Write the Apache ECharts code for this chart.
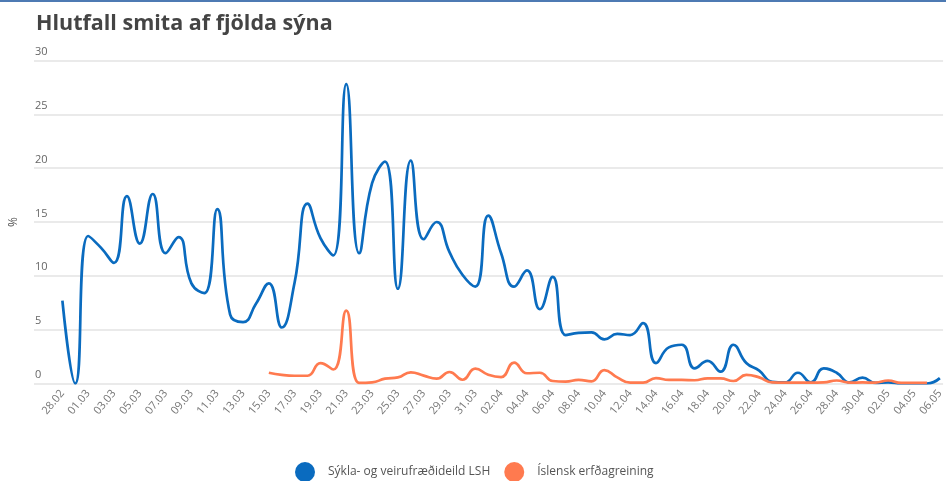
<!DOCTYPE html>
<html>
<head>
<meta charset="UTF-8">
<title>Hlutfall smita af fjölda sýna</title>
<script src="https://cdn.jsdelivr.net/npm/echarts@6/dist/echarts.min.js"></script>
<style>
  html, body { margin: 0; padding: 0; background: #fff; }
  #main { width: 946px; height: 481px; }
</style>
</head>
<body>
<div id="main"></div>
<script>
// dagsetningar 28.02 - 06.05
var dates = ['28.02','29.02',
  '01.03','02.03','03.03','04.03','05.03','06.03','07.03','08.03','09.03','10.03',
  '11.03','12.03','13.03','14.03','15.03','16.03','17.03','18.03','19.03','20.03',
  '21.03','22.03','23.03','24.03','25.03','26.03','27.03','28.03','29.03','30.03','31.03',
  '01.04','02.04','03.04','04.04','05.04','06.04','07.04','08.04','09.04','10.04',
  '11.04','12.04','13.04','14.04','15.04','16.04','17.04','18.04','19.04','20.04',
  '21.04','22.04','23.04','24.04','25.04','26.04','27.04','28.04','29.04','30.04',
  '01.05','02.05','03.05','04.05','05.05','06.05'];

var lshValues = [7.7, 0, 13.7, 12.6, 11.2, 17.4, 13.0, 17.6, 12.1, 13.6,
  9.3, 8.4, 16.2, 6.4, 5.7, 7.4, 9.3, 5.2, 9.4, 16.7,
  13.5, 11.9, 27.8, 12.1, 18.6, 20.6, 8.8, 20.7, 13.4, 15.0,
  12.2, 10.1, 9.0, 15.6, 12.1, 9.0, 10.5, 6.9, 9.9, 4.5,
  4.7, 4.75, 4.1, 4.6, 4.5, 5.6, 1.9, 3.35, 3.6, 1.4,
  2.1, 1.1, 3.6, 1.9, 1.2, 0.15, 0.1, 1.0, 0.1, 1.4,
  1.0, 0.1, 0.55, 0.05, 0.1, 0, 0, 0, 0.5];

var iceValues = [null, null, null, null, null, null, null, null, null, null,
  null, null, null, null, null, null, 1.0, 0.8, 0.72, 0.72,
  1.9, 1.3, 6.76, 0.05, 0.1, 0.45, 0.57, 1.04, 0.73, 0.45,
  1.07, 0.35, 1.38, 0.82, 0.6, 1.93, 0.95, 1.0, 0.23, 0.18,
  0.33, 0.2, 1.25, 0.57, 0.08, 0.08, 0.5, 0.33, 0.33, 0.3,
  0.48, 0.48, 0.23, 0.8, 0.57, 0.1, 0.08, 0.08, 0.08, 0.1,
  0.28, 0.08, 0.1, 0.08, 0.28, 0.05, 0.05, 0.05, null];

var seriesNames = ['Sýkla- og veirufræðideild LSH', 'Íslensk erfðagreining'];

// merkja annan hvern dag
var labelIdx = [];
for (var i = 0; i < dates.length; i += 2) labelIdx.push(i);

function pairs(arr) {
    return arr.map(function (v, i) { return [i, v]; });
}

var myChart = echarts.init(document.getElementById('main'));

var option = {
    backgroundColor: '#fff',
    animation: false,
    title: {
        text: 'Hlutfall smita af fjölda sýna',
        left: 31,
        top: 8,
        textStyle: {
            fontFamily: 'Open Sans',
            fontWeight: 'bold',
            fontSize: 21.5,
            color: '#444'
        }
    },
    graphic: [
        { type: 'rect', left: 0, top: 0, shape: { width: 946, height: 2 }, style: { fill: '#4d7ab3' } }
    ],
    legend: {
        left: 290,
        top: 457,
        icon: 'circle',
        itemWidth: 20,
        itemHeight: 20,
        itemGap: 14,
        textStyle: {
            fontFamily: 'Open Sans',
            fontSize: 12,
            color: '#555',
            padding: [0, 0, 0, 8]
        },
        data: seriesNames
    },
    grid: {
        left: 33,
        right: 0,
        top: 60.5,
        bottom: 97.5
    },
    xAxis: {
        type: 'value',
        min: -2.2,
        max: 68.25,
        axisLine: { show: false },
        axisTick: { show: false },
        splitLine: { show: false },
        axisLabel: {
            customValues: labelIdx,
            rotate: 50,
            margin: 8,
            fontFamily: 'Open Sans',
            fontSize: 11,
            color: '#777',
            formatter: function (v) { return dates[v]; }
        }
    },
    yAxis: {
        type: 'value',
        min: 0,
        max: 30,
        interval: 5,
        name: '%',
        nameLocation: 'middle',
        nameRotate: 90,
        nameGap: 14,
        nameTextStyle: { fontFamily: 'Open Sans', fontSize: 12, color: '#555' },
        axisLine: { show: false },
        axisTick: { show: false },
        axisLabel: {
            inside: true,
            margin: 1,
            verticalAlign: 'bottom',
            padding: [0, 0, 3, 0],
            fontFamily: 'Open Sans',
            fontSize: 11,
            color: '#666'
        },
        splitLine: { lineStyle: { color: '#e3e3e3', width: 1.5 } }
    },
    series: [
        {
            name: seriesNames[0],
            type: 'line',
            smooth: true,
            showSymbol: false,
            symbol: 'circle',
            color: '#0a6bbf',
            lineStyle: { width: 2.7 },
            data: pairs(lshValues)
        },
        {
            name: seriesNames[1],
            type: 'line',
            smooth: true,
            showSymbol: false,
            symbol: 'circle',
            color: '#ff7a4f',
            lineStyle: { width: 2.7 },
            data: pairs(iceValues)
        }
    ]
};

myChart.setOption(option);
</script>
</body>
</html>
